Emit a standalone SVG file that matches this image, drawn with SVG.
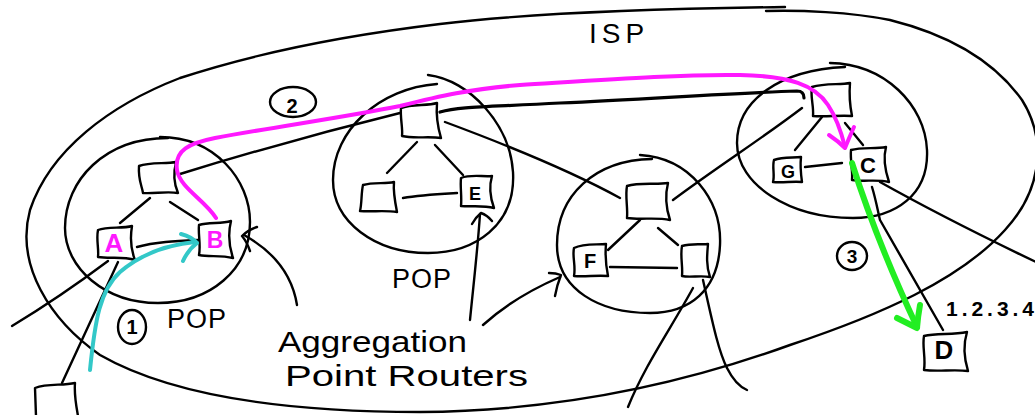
<svg xmlns="http://www.w3.org/2000/svg" width="1035" height="415" viewBox="0 0 1035 415">
  <style>
    .s{fill:none;stroke:#000;stroke-width:2.4;stroke-linecap:round;stroke-linejoin:round}
    .thick{stroke-width:3.2}
    .box{fill:#fff;stroke:#000;stroke-width:2.4;stroke-linejoin:round;stroke-linecap:round}
    .txt{font-family:"Liberation Sans",Arial,sans-serif;fill:#000}
    .id{font-family:"Liberation Sans",Arial,sans-serif;font-weight:bold;text-anchor:middle;fill:#000}
    .mag{fill:none;stroke:#ff18ff;stroke-width:4;stroke-linecap:round;stroke-linejoin:round}
    .teal{fill:none;stroke:#33c8c8;stroke-width:4;stroke-linecap:round;stroke-linejoin:round}
    .grn{fill:none;stroke:#22ee22;stroke-width:6;stroke-linecap:round;stroke-linejoin:round}
  </style>

  <!-- ISP boundary -->
  <g id="isp">
    <path class="s" d="M785,7 C640,9 520,14 440,24 C340,36 250,55 180,78 C110,105 50,150 30,210 C15,265 50,320 100,355 C170,395 280,412 420,412 C560,411 680,385 790,345 C880,315 960,280 1005,230 C1042,190 1047,140 1022,100 C995,62 950,35 890,20 C850,12 800,10 766,11"/>
    <text class="txt" x="589" y="43" font-size="28" letter-spacing="5">ISP</text>
  </g>

  <!-- points of presence -->
  <g id="pop1">
    <path class="s" d="M160,137 C215,137 250,180 250,222 C250,270 210,303 158,303 C105,303 65,268 65,228 C65,180 105,138 168,138"/>
    <text class="txt" x="167" y="328" font-size="27" letter-spacing="1">POP</text>
  </g>
  <g id="pop2">
    <path class="s" d="M428,75 C470,80 510,125 513,172 C516,225 475,253 428,253 C375,253 333,222 333,180 C333,130 380,88 437,84"/>
    <text class="txt" x="392" y="288" font-size="27" letter-spacing="1">POP</text>
  </g>
  <g id="pop3">
    <path class="s" d="M640,155 C690,158 722,200 720,245 C718,290 690,313 650,313 C600,313 557,290 557,245 C557,195 595,160 652,159"/>
  </g>
  <g id="pop4">
    <path class="s" d="M830,63 C885,64 925,105 927,150 C929,195 895,218 853,218 C790,218 737,185 737,143 C737,100 780,70 845,67"/>
  </g>

  <!-- links between routers -->
  <g id="links">
    <path class="s" d="M150,198 L120,223"/>
    <path class="s" d="M170,202 L198,220"/>
    <path class="s" d="M137,247 C155,242 175,241 198,240"/>
    <path class="s" d="M108,261 Q60,297 12,326"/>
    <path class="s" d="M118,262 L62,383"/>
    <path class="s" d="M180,174 Q290,140 400,113"/>
    <path class="s" d="M417,142 L387,173"/>
    <path class="s" d="M435,145 L463,175"/>
    <path class="s" d="M403,198 C420,195 440,194 457,193"/>
    <path class="s thick" d="M440,112 C460,106 490,107 560,103 C650,99 730,93 797,91 C802,91 804,94 804,98"/>
    <path class="s" d="M445,122 C480,135 560,165 620,198"/>
    <path class="s" d="M640,220 L608,250"/>
    <path class="s" d="M658,228 L678,245"/>
    <path class="s" d="M610,267 L677,268"/>
    <path class="s" d="M673,200 C720,165 760,140 802,108"/>
    <path class="s" d="M693,288 C670,330 645,365 628,407"/>
    <path class="s" d="M703,280 C712,320 718,350 727,368 C733,380 740,387 747,390"/>
    <path class="s" d="M822,117 L795,150"/>
    <path class="s" d="M845,123 L863,145"/>
    <path class="s" d="M805,167 L842,163"/>
    <path class="s" d="M872,187 C876,200 878,212 880,220 L943,330"/>
    <path class="s" d="M880,182 C930,210 990,240 1036,262"/>
  </g>

  <!-- routers -->
  <g id="r-pop1-top"><path class="box" d="M139,166 C150,162 165,164 176,162 C173,174 174,184 178,193 C166,191 154,194 143,193 C142,186 138,180 139,166 Z"/></g>
  <g id="r-a">
    <path class="box" d="M98,230 C108,226 122,229 132,226 C130,238 131,250 135,260 C122,256 110,259 98,257 C99,248 96,240 98,230 Z"/>
    <text class="id" x="114" y="252" font-size="26" style="fill:#ff18ff">A</text>
  </g>
  <g id="r-b">
    <path class="box" d="M199,225 C209,222 221,224 231,221 C228,233 229,246 233,258 C221,255 209,257 199,255 C201,245 198,235 199,225 Z"/>
    <text class="id" x="215" y="248" font-size="23" style="fill:#ff18ff">B</text>
  </g>
  <g id="host-left"><path class="box" d="M36,416 L35,388 C48,383 62,386 75,383 C74,395 76,405 78,416"/></g>
  <g id="r-pop2-top"><path class="box" d="M401,108 C412,104 428,106 437,103 C436,115 438,128 441,138 C428,136 414,139 402,136 C403,128 400,118 401,108 Z"/></g>
  <g id="r-pop2-left"><path class="box" d="M363,185 C373,182 385,184 394,182 C393,192 395,202 397,212 C385,210 372,212 360,211 C362,203 361,194 363,185 Z"/></g>
  <g id="r-e">
    <path class="box" d="M461,178 C471,174 483,177 492,176 C489,186 490,197 494,208 C483,205 471,207 461,206 C462,197 460,187 461,178 Z"/>
    <text class="id" x="475" y="200" font-size="18">E</text>
  </g>
  <g id="r-pop3-top"><path class="box" d="M627,186 C640,182 656,185 668,183 C665,195 666,208 670,220 C656,217 641,220 627,218 C628,208 625,196 627,186 Z"/></g>
  <g id="r-f">
    <path class="box" d="M574,248 C584,243 596,245 606,244 C605,255 606,266 608,276 C596,275 585,277 574,276 C576,266 572,256 574,248 Z"/>
    <text class="id" x="590" y="268" font-size="20">F</text>
  </g>
  <g id="r-pop3-right"><path class="box" d="M682,246 C692,243 702,245 708,244 C707,255 706,266 710,277 C700,275 690,278 682,276 C683,266 680,256 682,246 Z"/></g>
  <g id="r-pop4-top"><path class="box" d="M812,87 C825,83 840,85 850,83 C849,95 850,106 852,116 C840,115 826,117 813,116 C814,106 810,96 812,87 Z"/></g>
  <g id="r-g">
    <path class="box" d="M774,160 C783,157 793,158 801,157 C800,166 801,175 802,182 C793,181 783,183 773,182 C775,175 772,167 774,160 Z"/>
    <text class="id" x="788" y="178" font-size="18">G</text>
  </g>
  <g id="r-c">
    <path class="box" d="M851,150 C862,147 875,149 886,147 C883,158 885,170 889,182 C877,179 864,182 852,180 C853,171 850,160 851,150 Z"/>
    <text class="id" x="868" y="173" font-size="22">C</text>
  </g>
  <g id="host-d">
    <path class="box" d="M924,336 C937,333 952,335 967,332 C963,345 964,358 968,371 C953,369 939,372 924,370 C926,358 922,347 924,336 Z"/>
    <text class="id" x="944" y="359" font-size="26">D</text>
    <text class="txt" x="946" y="316" font-size="21" font-weight="bold" textLength="88" lengthAdjust="spacing">1.2.3.4</text>
  </g>

  <!-- packet path: step 1 (teal), step 2 (magenta), step 3 (green) -->
  <g id="flows">
    <path class="teal" d="M90,370 C95,320 100,290 120,272 C140,255 165,245 195,242"/>
    <path class="teal" d="M181,234 Q192,237 197,243 Q188,250 183,261"/>
    <path class="mag" d="M216,218 C205,200 180,188 177,170 C174,150 190,143 215,138 C280,126 340,118 400,106 C440,96 470,89 520,85 C600,80 680,74 740,75 C790,76 815,85 828,105 C838,120 842,135 845,147"/>
    <path class="mag" d="M829,135 Q838,141 845,148 Q849,138 854,127"/>
    <path class="grn" d="M852,163 C870,220 895,280 917,327"/>
    <path class="grn" d="M897,318 Q907,323 917,328 Q918,316 920,305"/>
  </g>

  <!-- step markers -->
  <g id="step1">
    <ellipse class="s" cx="132" cy="327" rx="14" ry="17"/>
    <text class="txt" x="132" y="334" font-size="20" font-weight="bold" text-anchor="middle">1</text>
  </g>
  <g id="step2">
    <ellipse class="s" cx="293" cy="102" rx="23" ry="15"/>
    <text class="txt" x="292" y="113" font-size="20" font-weight="bold" text-anchor="middle">2</text>
  </g>
  <g id="step3">
    <ellipse class="s" cx="852" cy="256" rx="15" ry="14"/>
    <text class="txt" x="852" y="263" font-size="19" font-weight="bold" text-anchor="middle">3</text>
  </g>

  <!-- callout for aggregation point routers -->
  <g id="callout">
    <text class="txt" x="278" y="352" font-size="29" textLength="189" lengthAdjust="spacingAndGlyphs">Aggregation</text>
    <text class="txt" x="285" y="386" font-size="29" textLength="243" lengthAdjust="spacingAndGlyphs">Point Routers</text>
    <path class="s" d="M297,305 C293,280 280,255 244,235"/>
    <path class="s" d="M257,227 Q248,230 242,236 Q247,242 250,251"/>
    <path class="s" d="M470,320 C474,280 478,245 480,214"/>
    <path class="s" d="M472,224 Q476,217 481,213 Q487,215 492,221"/>
    <path class="s" d="M483,325 C505,305 530,290 560,277"/>
    <path class="s" d="M549,273 Q556,273 561,275 Q557,285 555,296"/>
  </g>
</svg>
